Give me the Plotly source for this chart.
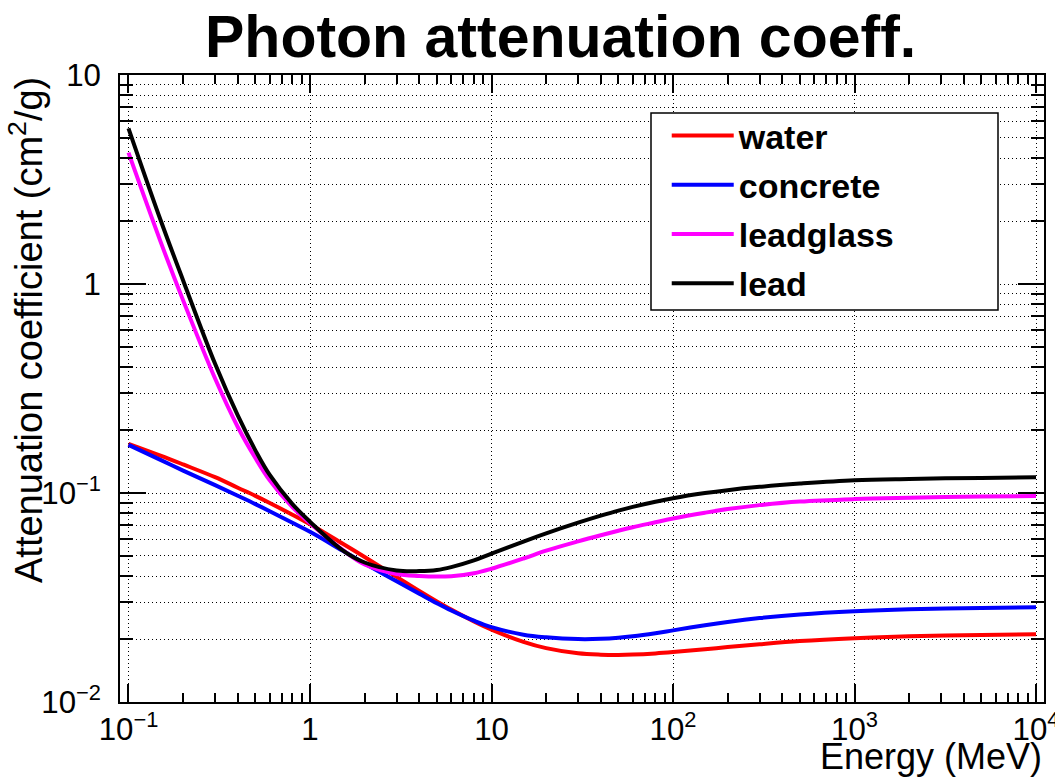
import plotly.graph_objects as go

# Photon energy (MeV)
energy = [0.1, 0.15, 0.2, 0.3, 0.4, 0.5, 0.6, 0.8, 1, 1.5, 2, 3, 4, 5, 6, 8, 10,
          15, 20, 30, 40, 50, 60, 80, 100, 150, 200, 300, 500, 1000, 2000, 5000, 10000]

# Mass attenuation coefficients (cm^2/g)
water = [0.172, 0.151, 0.137, 0.119, 0.106, 0.0969, 0.0896, 0.0787, 0.0708, 0.0575,
         0.0494, 0.0397, 0.0340, 0.0303, 0.0277, 0.0243, 0.0222, 0.0194, 0.0181, 0.0171,
         0.01685, 0.0168, 0.01686, 0.01708, 0.01733, 0.01788, 0.01831, 0.01889, 0.01956,
         0.02018, 0.02061, 0.02093, 0.02107]
concrete = [0.170, 0.144, 0.128, 0.109, 0.0970, 0.0885, 0.0818, 0.0720, 0.0652, 0.0532,
            0.0460, 0.0378, 0.0330, 0.0297, 0.0274, 0.0245, 0.0228, 0.0210, 0.0204, 0.0200,
            0.02005, 0.02028, 0.02061, 0.02134, 0.02202, 0.0233, 0.02415, 0.0252, 0.02625,
            0.0272, 0.0278, 0.0282, 0.0284]
leadglass = [4.25, 1.60, 0.835, 0.353, 0.207, 0.147, 0.115, 0.0855, 0.0716, 0.0537,
             0.0455, 0.0410, 0.0401, 0.0398, 0.0400, 0.0413, 0.0434, 0.0486, 0.0530, 0.0587,
             0.0628, 0.0660, 0.0686, 0.0724, 0.0755, 0.0805, 0.0838, 0.0875, 0.0910, 0.0935,
             0.0950, 0.0962, 0.0967]
lead = [5.56, 2.03, 1.04, 0.415, 0.235, 0.160, 0.122, 0.0885, 0.0729, 0.0535,
        0.0465, 0.0426, 0.0423, 0.0428, 0.0442, 0.0476, 0.0513, 0.0586, 0.0641, 0.0721,
        0.0779, 0.0824, 0.0858, 0.0908, 0.0944, 0.0999, 0.1032, 0.1070, 0.1109, 0.1152,
        0.1168, 0.1181, 0.1188]

series_names = ["water", "concrete", "leadglass", "lead"]
series_colors = ["#ff0000", "#0000ff", "#ff00ff", "#000000"]
series_values = [water, concrete, leadglass, lead]

FONT = "Liberation Sans, Arial, Helvetica, sans-serif"

fig = go.Figure()
for name, vals, col in zip(series_names, series_values, series_colors):
    fig.add_trace(go.Scatter(
        x=energy, y=vals, mode="lines", name=name, legendgroup=name,
        line=dict(color=col, width=4, shape="spline", smoothing=1.0),
    ))

common = dict(
    type="log", showline=True, linecolor="black", linewidth=2, mirror="allticks",
    ticks="inside", tickcolor="black", tickwidth=1.5, dtick=1,
    exponentformat="power", showgrid=True, gridcolor="black", gridwidth=1,
    griddash="1px,3px", zeroline=False, ticklabeloverflow="allow", automargin=False,
    tickfont=dict(family=FONT, size=25, color="black"),
)

fig.update_xaxes(range=[-1.0468, 4.044], ticklen=18, ticklabelstandoff=0,
                 minor=dict(ticks="inside", ticklen=9, dtick="D1", tickcolor="black",
                            tickwidth=1.5, showgrid=False),
                 **common)
fig.update_yaxes(range=[-2, 1], ticklen=26, ticklabelstandoff=12,
                 minor=dict(ticks="inside", ticklen=13, dtick="D1", tickcolor="black",
                            tickwidth=1.5, showgrid=True, gridcolor="black",
                            griddash="1px,3px", gridwidth=1),
                 **common)

fig.update_layout(
    width=1055, height=778,
    margin=dict(l=120, r=11, t=75, b=76),
    plot_bgcolor="white", paper_bgcolor="white",
    showlegend=True,
    legend=dict(x=0.5917, y=0.949, xanchor="left", yanchor="top",
                bgcolor="rgba(0,0,0,0)", borderwidth=0,
                font=dict(family=FONT, size=34, color="black", weight="bold"),
                itemwidth=62, tracegroupgap=2),
    shapes=[dict(type="rect", xref="paper", yref="paper",
                 x0=(651 - 120) / 924, x1=(998 - 120) / 924,
                 y0=(702 - 310) / 627, y1=(702 - 113) / 627,
                 line=dict(color="black", width=1.5), fillcolor="white", layer="above")],
    annotations=[
        dict(text="<b>Photon attenuation coeff.</b>", xref="paper", yref="paper",
             x=(560 - 120) / 924, y=(702 - 37) / 627, xanchor="center", yanchor="middle",
             showarrow=False, font=dict(family=FONT, size=59, color="black")),
        dict(text="Energy (MeV)", xref="paper", yref="paper",
             x=1.0, y=(702 - 756) / 627, xanchor="right", yanchor="middle",
             showarrow=False, font=dict(family=FONT, size=36, color="black")),
        dict(text="Attenuation coefficient (cm<sup>2</sup>/g)", xref="paper", yref="paper",
             x=(26 - 120) / 924, y=1.0, xanchor="center", yanchor="top", textangle=-90,
             showarrow=False, font=dict(family=FONT, size=38, color="black")),
    ],
)

fig.write_html("out.html")
